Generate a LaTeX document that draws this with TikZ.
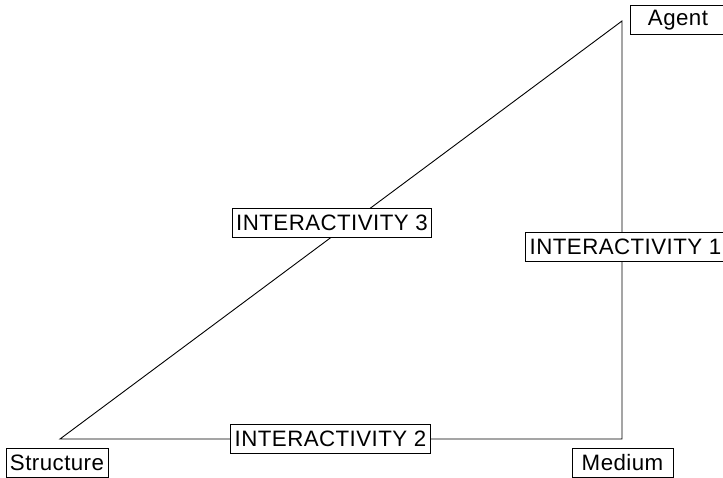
\documentclass[tikz,border=0pt]{standalone}
\usepackage{fontspec}
\setmainfont{Liberation Sans}[LetterSpace=2]
\usepackage{tikz}
\usetikzlibrary{positioning}
\tikzset{label node/.style={draw,fill=white,line width=.9pt,inner xsep=4pt,inner ysep=0pt,minimum height=29pt,font=\fontsize{22.3}{24}\selectfont},
            side/.style={line width=.9pt}
            }
\begin{document}
\begin{tikzpicture}[x=1pt,y=-1pt]
    \useasboundingbox (0,0) rectangle (723,478);

    \coordinate (a) at (622,21);
    \coordinate (m) at (622,439);
    \coordinate (s) at (60,439);

    \draw[side] (s) -- (a) -- (m) -- cycle;

    \node[label node,minimum width=96pt] (agent) at (678,20) {Agent};
    \node[label node] (structure) at (57,463) {Structure};
    \node[label node,minimum width=101pt] (medium) at (622.5,462.5) {Medium};

    \node[label node] (int3) at (332,223) {INTERACTIVITY 3};
    \node[label node] (int1) at (625.5,247) {INTERACTIVITY 1};
    \node[label node] (int2) at (330.5,439) {INTERACTIVITY 2};

\end{tikzpicture}
\end{document}
